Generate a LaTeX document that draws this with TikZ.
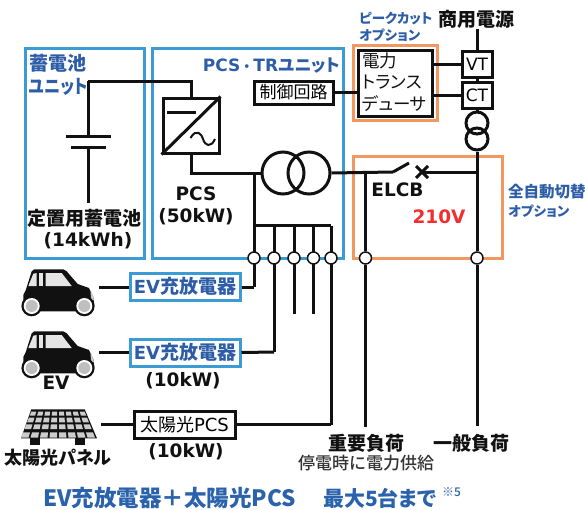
\documentclass[tikz,border=0pt]{standalone}
\usepackage{fontspec}
\setmainfont{DejaVu Sans}
\newfontfamily\jpFont[RawFeature=+palt]{Noto Sans CJK JP}
\newfontfamily\jpPlain{Noto Sans CJK JP}
\newfontfamily\jpMedium{Noto Sans CJK JP Medium}
\usepackage{xcolor}
\definecolor{lineDark}{HTML}{111111}
\definecolor{unitBlue}{HTML}{3A9BD5}
\definecolor{labelBlue}{HTML}{2E5DA8}
\definecolor{footerBlue}{HTML}{2A62AC}
\definecolor{optionOrange}{HTML}{F0985F}
\definecolor{voltRed}{HTML}{F03030}
\definecolor{noteGrey}{HTML}{333333}
\usetikzlibrary{positioning,calc}
\newcommand{\jp}[1]{{\jpFont #1}}
\newcommand{\fsz}[1]{\fontsize{#1}{#1}\selectfont}
\tikzset{
  unitFrame/.style={
    rectangle,
    draw=unitBlue,
    line width=3pt,
    inner sep=0pt
 },
  optionFrame/.style={
    rectangle,
    draw=optionOrange,
    line width=3pt,
    inner sep=0pt
 },
  deviceBox/.style={
    rectangle,
    draw=lineDark,
    fill=white,
    line width=3pt,
    inner sep=0pt,
    font=\fsz{17}
 },
  chargerBox/.style={
    rectangle,
    draw=unitBlue,
    fill=white,
    line width=3pt,
    inner sep=0pt,
    minimum width=110pt,
    minimum height=27pt,
    text=labelBlue,
    font=\fsz{18}\bfseries
 },
  wireLine/.style={
    draw=lineDark,
    line width=3pt
 },
  terminalDot/.style={
    circle,
    draw=lineDark,
    fill=white,
    line width=1.5pt,
    minimum size=12pt,
    inner sep=0pt
 },
  blackLabel/.style={
    inner sep=0pt,
    text=lineDark,
    font=\fsz{18.5}\bfseries
 },
  blueLabel/.style={
    inner sep=0pt,
    text=labelBlue,
    font=\fsz{18}\bfseries
 },
  footerLabel/.style={
    inner sep=0pt,
    anchor=west,
    text=footerBlue,
    font=\jpFont\bfseries\fsz{22.5}
 },
  car/.pic={
    \fill[lineDark] (-34.7,12) -- (-34.7,2) -- (-32.3,-2.7) -- (-26.3,-21.7) -- (-23.7,-23.7) -- (5.3,-23.7) -- (8.7,-21.7)
      -- (19.7,-9) -- (31,-5) -- (35.3,4) -- (36.3,12) -- (33.7,18.3) -- (-33,18.3) -- cycle;
    \fill[white!90!black] (-29.7,-7) -- (-24.7,-19.3) -- (-21.3,-20) -- (-21.3,-7) -- cycle;
    \fill[white!90!black] (-19,-20) rectangle (-14.7,-7);
    \fill[white!90!black] (-12.3,-20) -- (3.7,-20) -- (13.7,-7) -- (-12.3,-7) -- cycle;
    \fill[white!80!black] (32.5,-3) -- (35.5,4) -- (35.8,7) -- (33,7) -- cycle;
    \foreach \wheelX in {-26.3,26.3} {
      \fill[lineDark] (\wheelX,13) circle (10.3);
      \fill[white] (\wheelX,13) circle (8);
      \fill[white!75!black] (\wheelX,13) circle (6);
    }
  },
  solarPanel/.pic={
    \fill[lineDark] (-26.7,-14.7) -- (26.7,-14.7) -- (39,14.3) -- (-37,14.3) -- cycle;
    \fill[lineDark] (-28,14) rectangle (-18,21);
    \fill[lineDark] (17,14) rectangle (27,21);
    % cells get wider towards the bottom
    \foreach \rowA/\rowB in {-12.3/-8.3,-6.3/-1.7,0.3/5,8.3/13.7} {
      \foreach \colI in {-4,...,3} {
        \pgfmathsetmacro{\wA}{(26.7+(\rowA+14.7)*0.4)/4}
        \pgfmathsetmacro{\wB}{(26.7+(\rowB+14.7)*0.4)/4}
        \fill[white!80!black] ({\colI*\wA+1},\rowA) -- ({(\colI+1)*\wA-1},\rowA)
          -- ({(\colI+1)*\wB-1},\rowB) -- ({\colI*\wB+1},\rowB) -- cycle;
      }
    }
  }
}
\begin{document}
\begin{tikzpicture}[x=1pt,y=-1pt]
  \useasboundingbox (0,0) rectangle (585,509);

  % Unit and option frames
  \node[unitFrame, minimum width=119pt, minimum height=210pt] (batteryUnit) at (84.5,153) {};
  \node[unitFrame, minimum width=191pt, minimum height=210pt] (pcsUnit) at (247.5,153) {};
  \node[optionFrame, minimum width=84pt, minimum height=75pt] (peakOption) at (395,82.5) {};
  \node[optionFrame, minimum width=149pt, minimum height=102pt] (switchOption) at (427.5,207) {};

  % Main devices
  \node[deviceBox, minimum width=56pt, minimum height=55pt] (pcs) at (191,125.5) {};
  \node[deviceBox, minimum width=79pt, minimum height=23pt] (control) at (293.5,92.5) {\jp{制御回路}};
  \node[deviceBox, minimum width=74pt, minimum height=66pt] (transducer) at (395,83) {};
  \node[deviceBox, minimum width=30pt, minimum height=26pt] (vt) at (477,64) {VT};
  \node[deviceBox, minimum width=30pt, minimum height=26pt] (ct) at (477,95) {CT};

  % Transformers
  \node[circle, draw=lineDark, line width=3pt, minimum size=42pt, inner sep=0pt] (trLeft) at (283,173) {};
  \node[circle, draw=lineDark, line width=3pt, minimum size=42pt, inner sep=0pt] (trRight) at (309,173) {};
  \node[circle, draw=lineDark, line width=3pt, minimum size=22pt, inner sep=0pt] (gridTop) at (477,123) {};
  \node[circle, draw=lineDark, line width=3pt, minimum size=22pt, inner sep=0pt] (gridBottom) at (477,139) {};

  % Free ends and corners
  \coordinate (batTop) at (88,81);
  \coordinate (plateA) at (88,136);
  \coordinate (plateB) at (88,147);
  \coordinate (batEnd) at (88,203);
  \coordinate (sourceEnd) at (477,29);
  \coordinate (busTop) at (254,173);
  \coordinate (switchL) at (393,172);
  \coordinate (switchR) at (409,163);
  \coordinate (breaker) at (422,172);
  \coordinate (keyTap) at (365.5,172);
  \coordinate (mainTap) at (477,172);
  \coordinate (keyEnd) at (365.5,427);
  \coordinate (mainEnd) at (477,426);

  % Terminals on the lower frame edge
  \foreach \busName/\busX/\busEnd in {busA/254/287,busB/274/352,busC/294/314,busD/313.5/314,busE/331/424.5} {
    \coordinate (\busName Top) at (\busX,225.5);
    \coordinate (\busName End) at (\busX,\busEnd);
    \draw[wireLine] (\busName Top) -- (\busName End);
    \node[terminalDot] (\busName) at (\busX,258) {};
  }
  \node[terminalDot] (keyDot) at (365.5,258) {};
  \node[terminalDot] (mainDot) at (477,258) {};

  % Chargers and solar
  \node[chargerBox] (chargerA) at (185,286.5) {EV\jp{\fsz{19}充放電器}};
  \node[chargerBox] (chargerB) at (185,352.5) {EV\jp{\fsz{19}充放電器}};
  \node[deviceBox, minimum width=101pt, minimum height=27pt, font=\fsz{18}] (solarPcs) at (184.5,424.5) {\jp{太陽光}PCS};
  \coordinate (carAEnd) at (99,287);
  \coordinate (carBEnd) at (99,352.5);
  \coordinate (panelEnd) at (101,424.5);
  \pic at (58,293) {car};
  \pic at (58,355) {car};
  \pic at (58,424) {solarPanel};

  % Wires
  \draw[wireLine] (batTop) -- (plateA);
  \draw[wireLine] (plateB) -- (batEnd);
  \draw[wireLine] (batTop) -| (pcs.north);
  \draw[wireLine] (66,136) -- (111,136);
  \draw[wireLine] (71,147) -- (106,147);
  \draw[wireLine] (pcs.south) |- (busTop);
  \draw[wireLine] (busTop) -- (busA);
  \draw[wireLine] (busATop) -- (busETop);
  \draw[wireLine] (busTop) -- (trLeft);
  \draw[wireLine] (trRight.east) -- (switchL);
  \draw[wireLine] (switchL) -- (switchR);
  \draw[wireLine] (breaker) -- (mainTap);
  \draw[wireLine] (keyTap) -- (keyDot);
  \draw[wireLine] (keyDot) -- (keyEnd);
  \draw[wireLine] (gridBottom.south) -- (mainDot);
  \draw[wireLine] (mainDot) -- (mainEnd);
  \draw[wireLine] (sourceEnd) -- (vt);
  \draw[wireLine] (vt) -- (ct);
  \draw[wireLine] (ct) -- (gridTop);
  \draw[wireLine] (control) -- (control -| transducer.west);
  \draw[wireLine] (transducer.east |- vt) -- (vt);
  \draw[wireLine] (transducer.east |- ct) -- (ct);
  \draw[wireLine] (carAEnd) -- (chargerA.west |- carAEnd);
  \draw[wireLine] (carBEnd) -- (chargerB.west);
  \draw[wireLine] (chargerA.east |- busAEnd) -- (busAEnd);
  \draw[wireLine] (chargerB.east) -- (busBEnd);
  \draw[wireLine] (panelEnd) -- (solarPcs.west);
  \draw[wireLine] (solarPcs.east) -- (busEEnd);

  % PCS symbol and breaker cross
  \draw[wireLine] (pcs.south west) -- (pcs.north east);
  \draw[wireLine] (167,112) -- (196,112);
  \draw[line width=2pt, draw=lineDark] (190.5,138) .. controls (196,128) and (202,134) .. (203,139) .. controls (205,146) and (211,148) .. (215,139);
  \draw[wireLine] (416,166) -- (428,178);
  \draw[wireLine] (416,178) -- (428,166);

  % Labels
  \node[blueLabel, anchor=west] (batTitleA) at (29,63) {\jp{\fsz{19}蓄電池}};
  \node[blueLabel, anchor=west] (batTitleB) at (29,87) {\scalebox{.85}[1]{\jp{\fsz{19}ユニット}}};
  \node[blueLabel, anchor=east, font=\fsz{17}\bfseries] (pcsTitle) at (340,66) {PCS{\jpPlain\fsz{13}・}TR\jp{ユニット}};
  \node[blackLabel] (batName) at (84,218) {\jp{\fsz{19}定置用蓄電池}};
  \node[blackLabel] (batSize) at (88,241) {(14kWh)};
  \node[blackLabel] (pcsName) at (196,194) {PCS};
  \node[blackLabel] (pcsSize) at (196,217) {(50kW)};
  \node[blueLabel, anchor=west] (peakTitleA) at (359,19) {\jp{\fsz{13.5}ピークカット}};
  \node[blueLabel, anchor=west] (peakTitleB) at (359,35) {\jp{\fsz{13.5}オプション}};
  \node[blackLabel] (gridName) at (476,19) {\jp{\fsz{19}商用電源}};
  \node[anchor=west, inner sep=0pt, text=lineDark, align=left] (transducerText) at (362,84) {\jpFont\fsz{17.5}\begin{tabular}{@{}l@{}}電力\\[2pt]トランス\\[2pt]デューサ\end{tabular}};
  \node[blackLabel] (elcbName) at (397.5,190) {ELCB};
  \node[blackLabel, text=voltRed] (voltage) at (439,217) {210V};
  \node[blueLabel, anchor=west] (autoTitleA) at (508,192) {\jp{\fsz{15.5}全自動切替}};
  \node[blueLabel, anchor=west] (autoTitleB) at (508,211) {\jp{\fsz{13.5}オプション}};
  \node[blackLabel] (carName) at (56,383) {EV};
  \node[blackLabel] (chargerSize) at (183,381) {(10kW)};
  \node[blackLabel] (panelName) at (58,458) {\jp{\fsz{18}太陽光パネル}};
  \node[blackLabel] (solarSize) at (186,452) {(10kW)};
  \node[blackLabel] (keyLoad) at (366,443) {\jp{\fsz{19}重要負荷}};
  \node[blackLabel] (mainLoad) at (471.5,443) {\jp{\fsz{19}一般負荷}};
  \node[inner sep=0pt, text=noteGrey] (keyNote) at (366,463) {\jpMedium\fsz{17}停電時に電力供給};
  \node[footerLabel] (footer) at (43,498) {EV充放電器＋太陽光PCS};
  \node[footerLabel] (footerMax) at (323,498) {\fsz{21}最大5台まで};
  \node[footerLabel, font=\jpMedium\fsz{12}] (footerNote) at (442,492) {※5};
\end{tikzpicture}
\end{document}
